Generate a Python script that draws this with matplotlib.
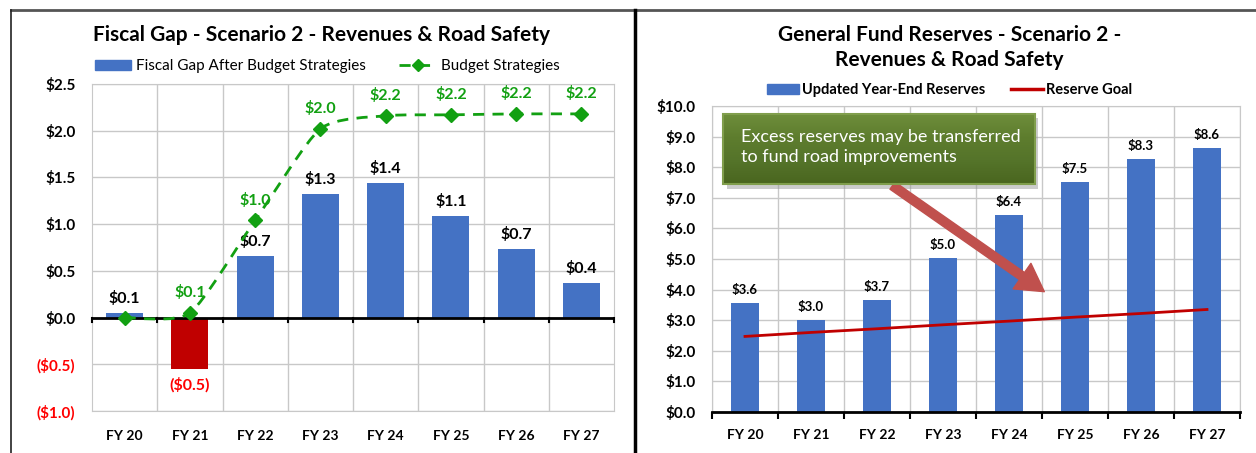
import matplotlib
matplotlib.use("Agg")
import matplotlib.pyplot as plt
import numpy as np
from matplotlib.patches import Patch, Rectangle, FancyArrowPatch, PathPatch
from matplotlib.lines import Line2D
from matplotlib.path import Path
from matplotlib.colors import LinearSegmentedColormap

plt.rcParams['font.family'] = ['Lato', 'DejaVu Sans']

years = ["FY 20", "FY 21", "FY 22", "FY 23", "FY 24", "FY 25", "FY 26", "FY 27"]

# left chart
gap_values = [0.05, -0.55, 0.66, 1.32, 1.44, 1.09, 0.73, 0.37]
gap_labels = ["$0.1", "($0.5)", "$0.7", "$1.3", "$1.4", "$1.1", "$0.7", "$0.4"]
strategy_values = [0.0, 0.05, 1.04, 2.02, 2.16, 2.17, 2.18, 2.18]
strategy_labels = ["", "$0.1", "$1.0", "$2.0", "$2.2", "$2.2", "$2.2", "$2.2"]
left_ticks = [-1.0, -0.5, 0.0, 0.5, 1.0, 1.5, 2.0, 2.5]
left_ticklabels = ["($1.0)", "($0.5)", "$0.0", "$0.5", "$1.0", "$1.5", "$2.0", "$2.5"]

# right chart
reserve_values = [3.55, 3.0, 3.66, 5.02, 6.45, 7.53, 8.28, 8.63]
reserve_labels = ["$3.6", "$3.0", "$3.7", "$5.0", "$6.4", "$7.5", "$8.3", "$8.6"]
goal_values = [2.47, 2.6, 2.72, 2.85, 2.97, 3.1, 3.22, 3.35]
right_ticks = [0, 1, 2, 3, 4, 5, 6, 7, 8, 9, 10]
right_ticklabels = ["$%.1f" % t for t in right_ticks]

BLUE = "#4472C4"
RED = "#C00000"
GREEN = "#12A012"
GRID = "#C8C8C8"

fig = plt.figure(figsize=(12.56, 4.53), dpi=100)
W, H = 1256.0, 453.0

def px_axes(x0, y0, x1, y1):
    return fig.add_axes([x0 / W, 1 - y1 / H, (x1 - x0) / W, (y1 - y0) / H])

x = np.arange(len(years))

# ---------------- left: fiscal gap
ax = px_axes(92, 84, 614, 411)
colors = [RED if v < 0 else BLUE for v in gap_values]
ax.bar(x, gap_values, width=0.57, color=colors, zorder=3)

# smoothed dashed line (excel style)
pts = np.column_stack([x, strategy_values]).astype(float)
ext = np.vstack([pts[0], pts, pts[-1]])
verts = [tuple(pts[0])]
codes = [Path.MOVETO]
k = 1 / 9.0
for i in range(len(pts) - 1):
    p0, p1, p2, p3 = ext[i], ext[i + 1], ext[i + 2], ext[i + 3]
    verts += [tuple(p1 + (p2 - p0) * k), tuple(p2 - (p3 - p1) * k), tuple(p2)]
    codes += [Path.CURVE4] * 3
ax.add_patch(PathPatch(Path(verts, codes), fill=False, ec=GREEN, lw=2,
                       ls=(0, (4, 3)), zorder=4))
ax.plot(x, strategy_values, ls="none", marker="D", ms=7, color=GREEN, zorder=5)

for xi, v, lab in zip(x, gap_values, gap_labels):
    if v < 0:
        ax.annotate(lab, (xi, v), xytext=(0, -6), textcoords="offset points",
                    ha="center", va="top", fontsize=11.5, fontweight="bold", color="#FF0000")
    else:
        ax.annotate(lab, (xi, v), xytext=(0, 5), textcoords="offset points",
                    ha="center", va="bottom", fontsize=11.5, fontweight="bold", color="black")
for xi, v, lab in zip(x, strategy_values, strategy_labels):
    if lab:
        ax.annotate(lab, (xi, v), xytext=(0, 9), textcoords="offset points",
                    ha="center", va="bottom", fontsize=11.5, fontweight="bold", color=GREEN)

ax.set_xlim(-0.5, len(years) - 0.5)
ax.set_ylim(-1.0, 2.5)
ax.set_yticks(left_ticks)
ax.set_yticklabels(left_ticklabels, fontsize=11, fontweight="bold")
for t, v in zip(ax.get_yticklabels(), left_ticks):
    t.set_color("#FF0000" if v < 0 else "black")
ax.set_xticks(x)
ax.set_xticklabels(years, fontsize=10, fontweight="bold")
ax.set_xticks(x[:-1] + 0.5, minor=True)
ax.tick_params(axis="both", which="major", length=0)
ax.tick_params(axis="y", pad=12)
ax.tick_params(axis="x", pad=14)
ax.tick_params(axis="x", which="minor", length=0)
ax.grid(True, axis="y", color=GRID, lw=1, zorder=0)
ax.grid(True, axis="x", which="minor", color=GRID, lw=1, zorder=0)
for s in ax.spines.values():
    s.set_color(GRID)
ax.axhline(0, color="black", lw=2, zorder=3)
for b in np.arange(-0.5, len(years), 1.0):
    ax.plot([b, b], [0, -0.05], color="black", lw=1.5, zorder=3, clip_on=False)

ax.set_title("Fiscal Gap - Scenario 2 - Revenues & Road Safety", fontsize=15,
             fontweight="bold", pad=31, x=0.44)
handles = [Patch(color=BLUE),
           Line2D([], [], color=GREEN, ls=(0, (4, 3)), lw=2, marker="D", ms=6)]
ax.legend(handles, ["Fiscal Gap After Budget Strategies", "Budget Strategies"],
          loc="lower center", bbox_to_anchor=(0.45, 1.005), ncol=2, frameon=False,
          fontsize=11, handlelength=2.4, columnspacing=2.2, handletextpad=0.3,
          borderaxespad=0.2)

# ---------------- right: reserves
ax2 = px_axes(712, 106, 1240, 412)
ax2.bar(x, reserve_values, width=0.41, color=BLUE, zorder=3)
ax2.plot(x, goal_values, color=RED, lw=2, zorder=4)
for xi, v, lab in zip(x, reserve_values, reserve_labels):
    ax2.annotate(lab, (xi, v), xytext=(0, 5), textcoords="offset points",
                 ha="center", va="bottom", fontsize=9.5, fontweight="bold")

ax2.set_xlim(-0.5, len(years) - 0.5)
ax2.set_ylim(0, 10)
ax2.set_yticks(right_ticks)
ax2.set_yticklabels(right_ticklabels, fontsize=11, fontweight="bold")
ax2.set_xticks(x)
ax2.set_xticklabels(years, fontsize=10, fontweight="bold")
ax2.set_xticks(np.arange(-0.5, len(years), 1.0), minor=True)
ax2.tick_params(axis="both", which="major", length=0)
ax2.tick_params(axis="y", pad=12)
ax2.tick_params(axis="x", pad=12)
ax2.tick_params(axis="x", which="minor", length=5, width=1.5, color="black", direction="out")
ax2.grid(True, axis="y", color=GRID, lw=1, zorder=0)
ax2.grid(True, axis="x", which="minor", color=GRID, lw=1, zorder=0)
for s in ax2.spines.values():
    s.set_color(GRID)
ax2.spines["bottom"].set_color("black")
ax2.spines["bottom"].set_linewidth(2)
ax2.spines["bottom"].set_zorder(5)

ax2.set_title("General Fund Reserves - Scenario 2 -\nRevenues & Road Safety", fontsize=15,
              fontweight="bold", pad=29, linespacing=1.3, x=0.45)
handles2 = [Patch(color=BLUE), Line2D([], [], color=RED, lw=2.5)]
ax2.legend(handles2, ["Updated Year-End Reserves", "Reserve Goal"],
           loc="lower center", bbox_to_anchor=(0.45, 1.005), ncol=2, frameon=False,
           prop={"size": 10.5, "weight": "bold"}, handlelength=2.2, columnspacing=1.8,
           handletextpad=0.2, borderaxespad=0.1)

# callout box
bx0, bx1, by0, by1 = -0.33, 4.39, 7.45, 9.75
ax2.add_patch(Rectangle((bx0 + 0.05, by0 - 0.15), bx1 - bx0, by1 - by0, color="#9A9A9A",
                        alpha=0.5, zorder=6, lw=0))
grad = LinearSegmentedColormap.from_list("g", ["#4A661F", "#55742A", "#5E7D2E", "#6E8E3B"])
ax2.imshow(np.linspace(0, 1, 50).reshape(-1, 1), cmap=grad, origin="lower", aspect="auto",
           extent=(bx0, bx1, by0, by1), zorder=7)
ax2.add_patch(Rectangle((bx0, by0), bx1 - bx0, by1 - by0, fill=False, ec="#809E4C",
                        lw=1.5, zorder=8))
ax2.text(bx0 + 0.27, (by0 + by1) / 2 + 0.05, "Excess reserves may be transferred\nto fund road improvements",
         color="white", fontsize=13, va="center", ha="left", linespacing=1.3, zorder=9)
ax2.add_patch(FancyArrowPatch((2.2, 7.45), (4.57, 3.88),
                              arrowstyle="simple,head_length=1.4,head_width=1.6,tail_width=0.45",
                              mutation_scale=14, color="#C0504D", zorder=6))
ax2.set_xlim(-0.5, len(years) - 0.5)
ax2.set_ylim(0, 10)

# panel frames
fig.add_artist(Line2D([11 / W, 1], [1 - 10 / H, 1 - 10 / H], color="#555555", lw=2))
fig.add_artist(Line2D([11 / W, 11 / W], [0, 1 - 10 / H], color="#222222", lw=1.2))
fig.add_artist(Line2D([635 / W, 635 / W], [0, 1 - 10 / H], color="black", lw=2.5))

plt.savefig("out.png", dpi=100)
